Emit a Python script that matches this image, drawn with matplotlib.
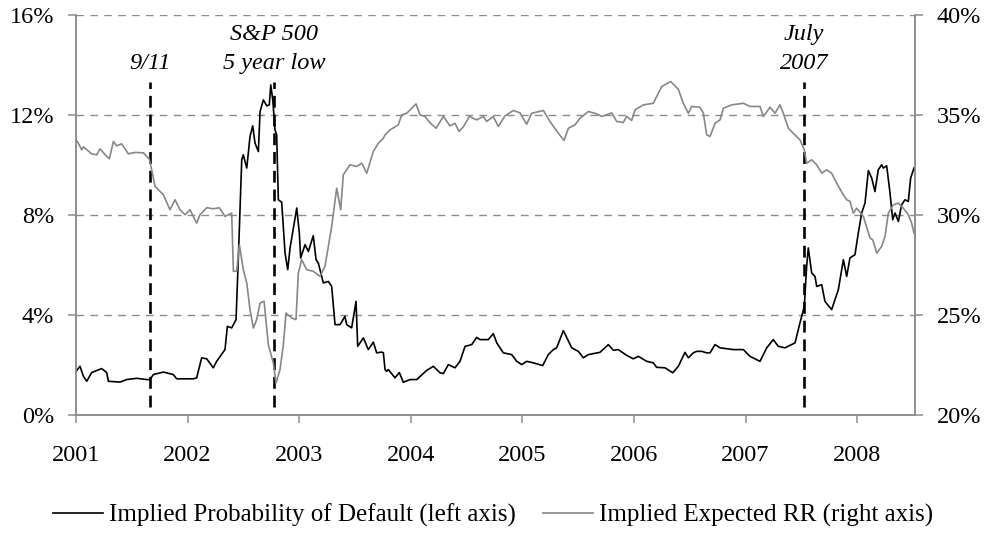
import matplotlib.pyplot as plt
from matplotlib.ticker import FuncFormatter, FixedLocator

plt.rcParams['font.family'] = ['Liberation Serif', 'DejaVu Serif']
plt.rcParams['font.size'] = 17.5

# implied probability of default (left axis, %), dates as decimal years
pd_dates = [2001.000, 2001.036, 2001.066, 2001.096, 2001.140, 2001.230, 2001.275, 2001.290,
            2001.394, 2001.454, 2001.544, 2001.633, 2001.663, 2001.693, 2001.783, 2001.872,
            2001.902, 2002.051, 2002.081, 2002.126, 2002.171, 2002.230, 2002.260, 2002.335,
            2002.356, 2002.395, 2002.434, 2002.455, 2002.485, 2002.499, 2002.530, 2002.559,
            2002.583, 2002.604, 2002.634, 2002.649, 2002.679, 2002.709, 2002.732, 2002.745,
            2002.763, 2002.783, 2002.798, 2002.813, 2002.843, 2002.873, 2002.897, 2002.918,
            2002.978, 2003.001, 2003.013, 2003.052, 2003.082, 2003.126, 2003.151, 2003.171,
            2003.216, 2003.261, 2003.291, 2003.321, 2003.366, 2003.410, 2003.425, 2003.470,
            2003.509, 2003.524, 2003.575, 2003.619, 2003.664, 2003.694, 2003.739, 2003.754,
            2003.769, 2003.784, 2003.799, 2003.858, 2003.897, 2003.933, 2003.993, 2004.053,
            2004.143, 2004.202, 2004.262, 2004.292, 2004.336, 2004.396, 2004.441, 2004.486,
            2004.546, 2004.590, 2004.620, 2004.695, 2004.739, 2004.770, 2004.829, 2004.904,
            2004.949, 2004.994, 2005.038, 2005.098, 2005.182, 2005.232, 2005.277, 2005.307,
            2005.367, 2005.442, 2005.501, 2005.546, 2005.591, 2005.695, 2005.770, 2005.815,
            2005.859, 2005.934, 2005.994, 2006.039, 2006.114, 2006.173, 2006.203, 2006.278,
            2006.347, 2006.397, 2006.457, 2006.487, 2006.531, 2006.562, 2006.607, 2006.651,
            2006.681, 2006.726, 2006.771, 2006.890, 2006.980, 2007.039, 2007.129, 2007.189,
            2007.248, 2007.293, 2007.353, 2007.443, 2007.487, 2007.526, 2007.547, 2007.562,
            2007.592, 2007.622, 2007.637, 2007.682, 2007.711, 2007.771, 2007.831, 2007.876,
            2007.906, 2007.935, 2007.980, 2008.010, 2008.040, 2008.070, 2008.100, 2008.130,
            2008.159, 2008.189, 2008.219, 2008.234, 2008.264, 2008.294, 2008.318, 2008.339,
            2008.369, 2008.398, 2008.428, 2008.458, 2008.479, 2008.509]
pd_vals = [1.73, 1.93, 1.53, 1.33, 1.68, 1.84, 1.68, 1.33,
           1.30, 1.40, 1.45, 1.40, 1.40, 1.60, 1.70, 1.60,
           1.43, 1.43, 1.47, 2.27, 2.23, 1.87, 2.13, 2.60,
           3.53, 3.47, 3.80, 6.33, 10.20, 10.40, 9.87, 11.13,
           11.56, 10.87, 10.53, 12.13, 12.60, 12.36, 12.40, 13.20,
           12.60, 11.40, 11.20, 8.60, 8.50, 6.47, 5.80, 6.67,
           8.27, 7.27, 6.27, 6.80, 6.53, 7.16, 6.20, 6.07,
           5.27, 5.33, 5.13, 3.60, 3.60, 3.93, 3.60, 3.47,
           4.53, 2.73, 3.07, 2.60, 2.90, 2.47, 2.50, 2.47,
           1.80, 1.73, 1.80, 1.47, 1.68, 1.29, 1.40, 1.40,
           1.77, 1.93, 1.67, 1.64, 2.00, 1.87, 2.13, 2.73,
           2.80, 3.09, 3.00, 3.00, 3.24, 2.87, 2.47, 2.40,
           2.13, 2.00, 2.13, 2.07, 1.96, 2.40, 2.60, 2.67,
           3.36, 2.67, 2.53, 2.27, 2.40, 2.49, 2.80, 2.57,
           2.60, 2.37, 2.23, 2.33, 2.13, 2.07, 1.89, 1.87,
           1.67, 1.93, 2.49, 2.27, 2.47, 2.53, 2.53, 2.47,
           2.47, 2.80, 2.67, 2.60, 2.60, 2.33, 2.13, 2.67,
           3.00, 2.73, 2.67, 2.87, 3.67, 4.33, 5.93, 6.67,
           5.67, 5.53, 5.13, 5.20, 4.53, 4.20, 5.00, 6.20,
           5.53, 6.27, 6.40, 7.27, 8.07, 8.47, 9.77, 9.47,
           8.93, 9.80, 10.00, 9.87, 9.96, 8.87, 7.80, 8.07,
           7.73, 8.40, 8.60, 8.53, 9.47, 9.87]

# implied expected recovery rate (right axis, %)
rr_dates = [2001.000, 2001.021, 2001.051, 2001.066, 2001.140, 2001.185, 2001.215, 2001.275,
            2001.299, 2001.335, 2001.364, 2001.409, 2001.469, 2001.529, 2001.603, 2001.657,
            2001.678, 2001.708, 2001.783, 2001.842, 2001.887, 2001.932, 2001.977, 2002.022,
            2002.081, 2002.111, 2002.171, 2002.230, 2002.284, 2002.335, 2002.395, 2002.410,
            2002.440, 2002.464, 2002.499, 2002.530, 2002.559, 2002.589, 2002.619, 2002.649,
            2002.685, 2002.723, 2002.768, 2002.792, 2002.828, 2002.858, 2002.882, 2002.933,
            2002.971, 2002.992, 2003.022, 2003.067, 2003.126, 2003.186, 2003.231, 2003.291,
            2003.336, 2003.372, 2003.395, 2003.455, 2003.515, 2003.560, 2003.605, 2003.664,
            2003.709, 2003.754, 2003.769, 2003.814, 2003.888, 2003.918, 2003.963, 2004.008,
            2004.047, 2004.082, 2004.127, 2004.172, 2004.226, 2004.292, 2004.351, 2004.396,
            2004.432, 2004.471, 2004.525, 2004.590, 2004.650, 2004.680, 2004.739, 2004.784,
            2004.844, 2004.919, 2004.978, 2005.038, 2005.083, 2005.188, 2005.247, 2005.322,
            2005.373, 2005.412, 2005.471, 2005.516, 2005.591, 2005.666, 2005.711, 2005.800,
            2005.845, 2005.904, 2005.934, 2005.979, 2006.009, 2006.084, 2006.173, 2006.248,
            2006.329, 2006.397, 2006.442, 2006.487, 2006.517, 2006.591, 2006.621, 2006.651,
            2006.681, 2006.726, 2006.771, 2006.800, 2006.875, 2006.980, 2007.039, 2007.129,
            2007.159, 2007.219, 2007.263, 2007.308, 2007.338, 2007.383, 2007.427, 2007.487,
            2007.526, 2007.547, 2007.592, 2007.637, 2007.682, 2007.726, 2007.771, 2007.816,
            2007.876, 2007.906, 2007.935, 2007.965, 2007.995, 2008.055, 2008.115, 2008.139,
            2008.175, 2008.219, 2008.249, 2008.279, 2008.324, 2008.369, 2008.413, 2008.458,
            2008.488, 2008.509]
rr_vals = [33.75, 33.58, 33.25, 33.40, 33.05, 33.00, 33.30, 32.92,
           32.80, 33.67, 33.45, 33.55, 33.05, 33.12, 33.10, 32.78,
           32.25, 31.42, 31.00, 30.25, 30.75, 30.25, 30.00, 30.25,
           29.58, 30.00, 30.35, 30.30, 30.35, 29.92, 30.08, 27.17,
           27.17, 28.50, 27.25, 26.58, 25.25, 24.33, 24.75, 25.58,
           25.67, 23.50, 22.58, 21.58, 22.25, 23.50, 25.08, 24.83,
           24.75, 27.08, 27.75, 27.25, 27.17, 26.92, 27.42, 29.42,
           31.33, 30.25, 32.00, 32.50, 32.42, 32.58, 32.08, 33.17,
           33.58, 33.83, 34.00, 34.25, 34.50, 35.00, 35.08, 35.33,
           35.55, 35.00, 34.92, 34.60, 34.33, 34.92, 34.45, 34.58,
           34.17, 34.40, 34.92, 34.75, 34.92, 34.67, 34.92, 34.42,
           34.95, 35.22, 35.10, 34.53, 35.08, 35.22, 34.67, 34.08,
           33.72, 34.33, 34.50, 34.83, 35.17, 35.05, 34.92, 35.10,
           34.67, 34.62, 34.92, 34.72, 35.25, 35.50, 35.58, 36.42,
           36.67, 36.28, 35.58, 35.08, 35.42, 35.38, 35.10, 34.00,
           33.92, 34.58, 34.75, 35.33, 35.50, 35.58, 35.42, 35.42,
           34.92, 35.38, 35.08, 35.50, 35.08, 34.33, 34.08, 33.75,
           33.25, 32.58, 32.75, 32.50, 32.08, 32.25, 32.08, 31.58,
           31.00, 30.75, 30.67, 30.08, 30.33, 29.92, 28.83, 28.75,
           28.08, 28.42, 28.92, 30.08, 30.50, 30.58, 30.33, 30.00,
           29.58, 29.08]

event_dates = [2001.663, 2002.774, 2007.526]
event_labels = ['9/11', 'S&P 500\n5 year low', 'July\n2007']
years = [2001, 2002, 2003, 2004, 2005, 2006, 2007, 2008]

axis_grey = '#8c8c8c'

fig = plt.figure(figsize=(9.86, 5.35), dpi=100)
ax = fig.add_axes([0.0771, 0.2252, 0.8509, 0.7468])
ax2 = ax.twinx()

ax.set_xlim(2001, 2008.518)
ax.set_ylim(0, 16)
ax2.set_ylim(20, 40)

# horizontal grid
ax.yaxis.set_major_locator(FixedLocator([0, 4, 8, 12, 16]))
ax2.yaxis.set_major_locator(FixedLocator([20, 25, 30, 35, 40]))
ax.grid(axis='y', color=axis_grey, lw=1.0, linestyle=(0, (5.5, 4.5)))
ax.set_axisbelow(True)

ax.plot(pd_dates, pd_vals, color='black', lw=1.2, zorder=4,
        label='Implied Probability of Default (left axis)')
ax2.plot(rr_dates, rr_vals, color='#878787', lw=1.2, zorder=3,
         label='Implied Expected RR (right axis)')

# event markers
for d, lab in zip(event_dates, event_labels):
    ax.plot([d, d], [0.3, 13.3], color='black', lw=1.9,
            linestyle=(0, (4.5, 2.6)), zorder=5)
    if '\n' in lab:
        ax.text(d, 14.63, lab, ha='center', va='center', style='italic',
                linespacing=1.5)
    else:
        ax.text(d, 14.04, lab, ha='center', va='center', style='italic')

ax.set_xticks(years)
ax.set_xticklabels([str(y) for y in years])
ax.yaxis.set_major_formatter(FuncFormatter(lambda v, p: '%d%%' % v))
ax2.yaxis.set_major_formatter(FuncFormatter(lambda v, p: '%d%%' % v))

for a in (ax, ax2):
    a.spines['top'].set_visible(False)
    for s in ('left', 'right', 'bottom'):
        a.spines[s].set_color(axis_grey)
        a.spines[s].set_linewidth(1.1)
    a.tick_params(direction='out', length=5.8, width=1.1, color=axis_grey,
                  labelsize=17.5, labelcolor='black')
ax.tick_params(axis='y', pad=10)
ax.tick_params(axis='x', pad=16)
ax2.tick_params(axis='y', pad=10)
ax2.patch.set_visible(False)

h1, l1 = ax.get_legend_handles_labels()
h2, l2 = ax2.get_legend_handles_labels()
fig.legend(h1 + h2, l1 + l2, loc='center', bbox_to_anchor=(0.5, 0.037),
           ncol=2, frameon=False, fontsize=18, handlelength=2.0,
           handletextpad=0.25, columnspacing=1.1)

fig.savefig('out.png', dpi=100)
